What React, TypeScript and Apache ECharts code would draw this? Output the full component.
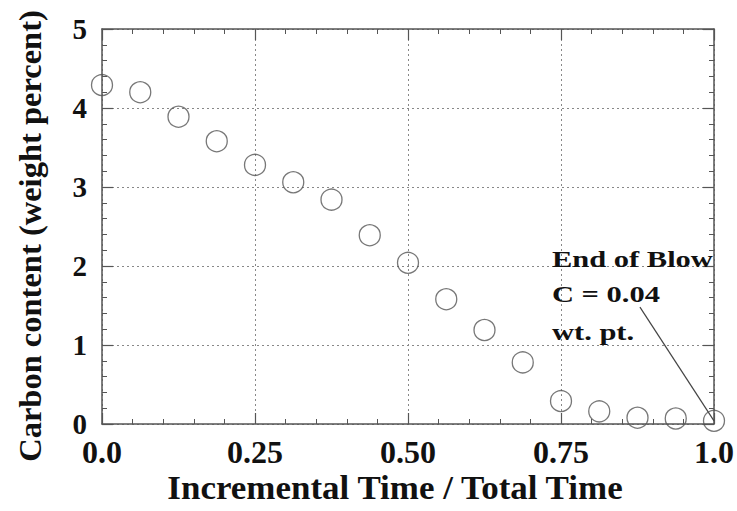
import React, { useEffect, useRef } from "react";
import * as echarts from "echarts";

const timeFraction = [0, 0.0625, 0.125, 0.1875, 0.25, 0.3125, 0.375, 0.4375, 0.5, 0.5625, 0.625, 0.6875, 0.75, 0.8125, 0.875, 0.9375, 1.0];
const carbonContent = [4.29, 4.2, 3.89, 3.58, 3.28, 3.06, 2.84, 2.39, 2.04, 1.58, 1.19, 0.78, 0.29, 0.16, 0.08, 0.07, 0.04];
const xTickLabels: Record<string, string> = { "0": "0.0", "0.25": "0.25", "0.5": "0.50", "0.75": "0.75", "1": "1.0" };
const annotationLines = ["End of Blow", "C = 0.04", "wt. pt."];
const annotationLeaderStart = [0.879, 1.48];
const annotationLeaderEnd = [1.0, 0.04];

const FONT = "'Liberation Serif', 'Times New Roman', serif";
const AXIS_COLOR = "#555";

export default function App() {
  const ref = useRef<HTMLDivElement>(null);
  useEffect(() => {
    if (!ref.current) return;
    const chart = echarts.init(ref.current, undefined, { renderer: "svg" });
    const points = timeFraction.map((t, i) => [t, carbonContent[i]]);
    const common = {
      min: 0,
      axisLine: { show: true, onZero: false, lineStyle: { color: AXIS_COLOR, width: 1.5 } },
      axisTick: { show: true, inside: true, length: 11, lineStyle: { color: AXIS_COLOR, width: 1.2 } },
      minorTick: { show: true, splitNumber: 5, length: 5, lineStyle: { color: AXIS_COLOR, width: 1 } },
    };
    const annotTops = [247, 282, 320];
    chart.setOption({
      animation: false,
      backgroundColor: "#fff",
      grid: { left: 102, top: 29, right: 23, bottom: 87, containLabel: false },
      xAxis: [
        {
          ...common,
          type: "value",
          max: 1,
          interval: 0.25,
          position: "bottom",
          axisLabel: {
            show: true,
            fontFamily: FONT,
            fontWeight: "bold",
            fontSize: 32,
            color: "#111",
            margin: 12,
            formatter: (v: number) => xTickLabels[String(v)] ?? String(v),
          },
          splitLine: { show: true, lineStyle: { color: "#888", type: [2, 3], width: 1 } },
        },
        {
          ...common,
          type: "value",
          max: 1,
          interval: 0.25,
          position: "top",
          axisLabel: { show: false },
          splitLine: { show: false },
        },
      ],
      yAxis: [
        {
          ...common,
          type: "value",
          max: 5,
          interval: 1,
          position: "left",
          axisLabel: {
            show: true,
            fontFamily: FONT,
            fontWeight: "bold",
            fontSize: 29,
            color: "#111",
            margin: 15,
            padding: [0, 0, 8, 0],
          },
          splitLine: { show: true, lineStyle: { color: "#888", type: [2, 3], width: 1 } },
        },
        {
          ...common,
          type: "value",
          max: 5,
          interval: 1,
          position: "right",
          axisLabel: { show: false },
          splitLine: { show: false },
        },
      ],
      series: [
        {
          type: "scatter",
          data: points,
          symbol: "circle",
          symbolSize: 21,
          itemStyle: { color: "rgba(255,255,255,0)", borderColor: "#555", borderWidth: 1.3 },
          z: 5,
        },
        {
          type: "line",
          data: [],
          markLine: {
            silent: true,
            symbol: ["none", "none"],
            label: { show: false },
            lineStyle: { color: "#444", width: 1.2, type: "solid" },
            data: [[{ coord: annotationLeaderStart }, { coord: annotationLeaderEnd }]],
          },
        },
      ],
      graphic: [
        ...annotationLines.map((t, i) => ({
          type: "text",
          x: 552,
          y: annotTops[i],
          scaleX: 1.27,
          style: { text: t, fontFamily: FONT, fontWeight: "bold", fontSize: 24, fill: "#111" },
          z: 10,
        })),
        {
          type: "text",
          x: 395,
          y: 488,
          scaleX: 1.06,
          style: {
            text: "Incremental Time / Total Time",
            fontFamily: FONT,
            fontWeight: "bold",
            fontSize: 33,
            fill: "#111",
            align: "center",
            verticalAlign: "middle",
          },
        },
        {
          type: "text",
          x: 30,
          y: 236,
          rotation: Math.PI / 2,
          style: {
            text: "Carbon content (weight percent)",
            fontFamily: FONT,
            fontWeight: "bold",
            fontSize: 32.5,
            fill: "#111",
            align: "center",
            verticalAlign: "middle",
          },
        },
      ],
    });
    return () => chart.dispose();
  }, []);
  return <div ref={ref} style={{ width: 737, height: 511, position: "absolute", left: 0, top: 0 }} />;
}
